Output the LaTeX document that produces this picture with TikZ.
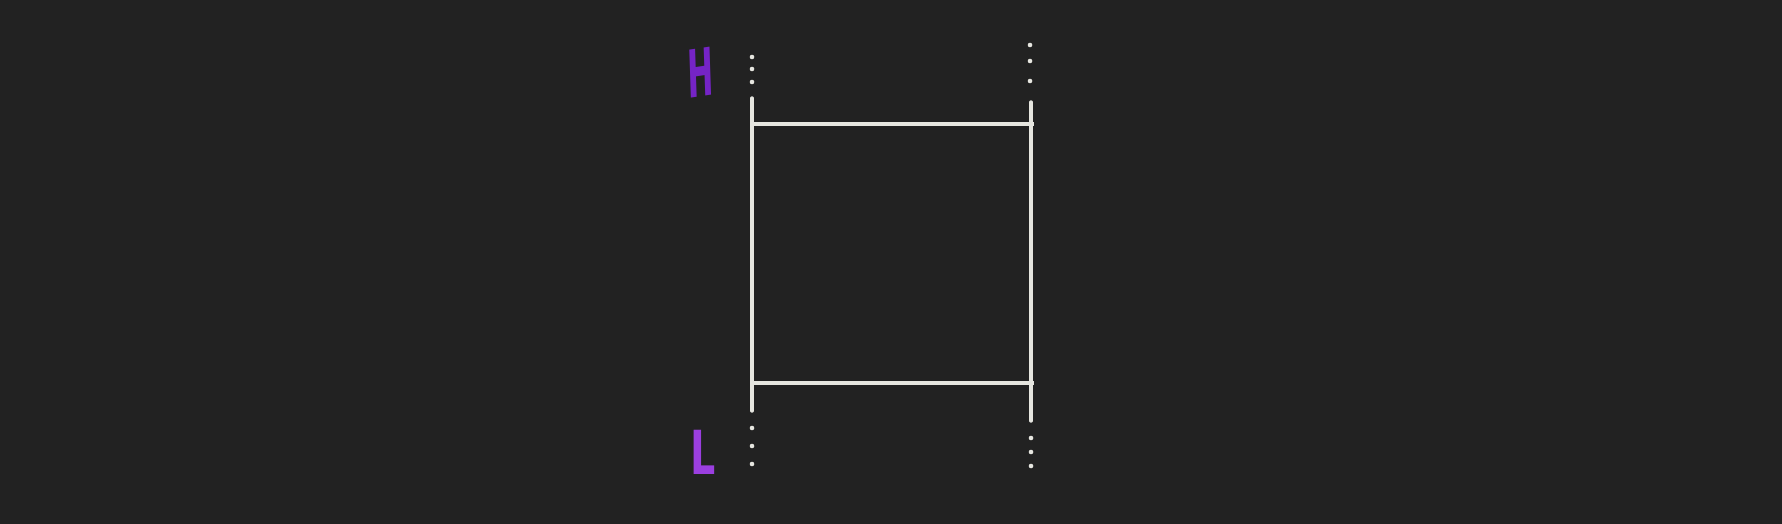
\documentclass[tikz,border=0pt]{standalone}
\usepackage{fontspec}
\newfontfamily\handfont{DejaVu Sans}
\definecolor{bg}{HTML}{222222}
\definecolor{ink}{HTML}{E6E6E0}
\definecolor{hpurple}{HTML}{7524C6}
\definecolor{lpurple}{HTML}{9B3FE0}
\begin{document}
\begin{tikzpicture}[x=1pt,y=-1pt,
  rail/.style={draw=ink,line width=3.4pt,line cap=round},
  rung/.style={draw=ink,line width=3.4pt},
  dotmark/.style={fill=ink,draw=none},
  letter/.style={inner sep=0pt,transform shape,font=\handfont\bfseries\fontsize{66}{66}\selectfont}]
\fill[bg] (0,0) rectangle (1782,524);
\useasboundingbox (0,0) rectangle (1782,524);
% rails
\coordinate (LT) at (752,98);
\coordinate (LB) at (752,411);
\coordinate (RT) at (1031,102);
\coordinate (RB) at (1031,421);
\coordinate (TL) at (752,124);
\coordinate (TR) at (1034,124);
\coordinate (BL) at (752,383);
\coordinate (BR) at (1034,383);
\draw[rail] (LT) -- (LB);
\draw[rail] (RT) -- (RB);
\draw[rung] (TL) -- (TR);
\draw[rung] (BL) -- (BR);
% dots
\foreach \y in {57,69,82} \fill[dotmark] (752,\y) circle (2.3);
\foreach \y in {45,61,81} \fill[dotmark] (1030,\y) circle (2.3);
\foreach \y in {428,446,464} \fill[dotmark] (752,\y) circle (2.3);
\foreach \y in {438,452,466} \fill[dotmark] (1031,\y) circle (2.3);
% letters
\node[letter,text=hpurple,xscale=0.47,rotate=4] (H) at (701,73) {H};
\node[letter,text=lpurple,xscale=0.6,yscale=0.92] (L) at (703,452) {L};
\end{tikzpicture}
\end{document}
